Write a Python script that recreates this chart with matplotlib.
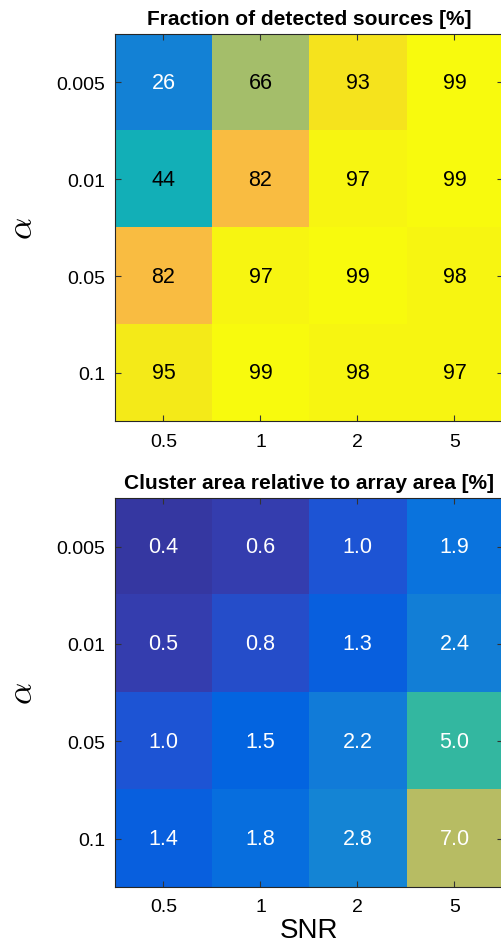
import numpy as np
import matplotlib
matplotlib.use('Agg')
from matplotlib import pyplot as plt
from matplotlib.colors import LinearSegmentedColormap

plt.rcParams['font.family'] = ['Liberation Sans', 'DejaVu Sans']
plt.rcParams['mathtext.fontset'] = 'cm'

snr = ['0.5', '1', '2', '5']
alpha = ['0.005', '0.01', '0.05', '0.1']

# rows: alpha, cols: SNR
detected = np.array([[26, 66, 93, 99],
                     [44, 82, 97, 99],
                     [82, 97, 99, 98],
                     [95, 99, 98, 97]])
cluster_area = np.array([[0.4, 0.6, 1.0, 1.9],
                         [0.5, 0.8, 1.3, 2.4],
                         [1.0, 1.5, 2.2, 5.0],
                         [1.4, 1.8, 2.8, 7.0]])

# parula-like colormap (subsampled)
parula_pts = [
    (0.2081, 0.1663, 0.5292), (0.2081, 0.2386, 0.6771), (0.1253, 0.3242, 0.8303),
    (0.0117, 0.3875, 0.8820), (0.0329, 0.4430, 0.8720), (0.0723, 0.4887, 0.8467),
    (0.0793, 0.5200, 0.8312), (0.0488, 0.5772, 0.8228), (0.0239, 0.6287, 0.8038),
    (0.0267, 0.6642, 0.7607), (0.0843, 0.6928, 0.7062), (0.1801, 0.7177, 0.6424),
    (0.3022, 0.7376, 0.5712), (0.4420, 0.7481, 0.5033), (0.5709, 0.7485, 0.4494),
    (0.6834, 0.7435, 0.4044), (0.7858, 0.7356, 0.3633), (0.8824, 0.7274, 0.3217),
    (0.9739, 0.7314, 0.2666), (0.9955, 0.7861, 0.1967), (0.9697, 0.8481, 0.1475),
    (0.9598, 0.9218, 0.0948), (0.9763, 0.9831, 0.0538)]
parula = LinearSegmentedColormap.from_list('parula', parula_pts, N=64)

panels = [
    (detected, 'Fraction of detected sources [%]', (0, 100), '{:.0f}', 30),
    (cluster_area, 'Cluster area relative to array area [%]', (0, 10), '{:.1f}', 100),
]

fig = plt.figure(figsize=(5.02, 9.45), dpi=100)
axes = [fig.add_axes([0.229, 0.553, 0.773, 0.410]),
        fig.add_axes([0.229, 0.060, 0.773, 0.412])]

for ax, (vals, title, clim, fmt, white_below) in zip(axes, panels):
    ax.imshow(vals, cmap=parula, vmin=clim[0], vmax=clim[1], aspect='auto')
    for i in range(vals.shape[0]):
        for j in range(vals.shape[1]):
            c = 'white' if vals[i, j] < white_below else 'black'
            ax.text(j, i, fmt.format(vals[i, j]), ha='center', va='center',
                    fontsize=15.5, color=c)
    ax.set_xticks(range(len(snr)))
    ax.set_xticklabels(snr)
    ax.set_yticks(range(len(alpha)))
    ax.set_yticklabels(alpha)
    ax.tick_params(direction='in', top=True, right=True, length=4, width=0.8,
                   labelsize=14, color='#333333')
    ax.tick_params(axis='x', pad=8)
    ax.tick_params(axis='y', pad=7)
    for s in ax.spines.values():
        s.set_linewidth(0.8)
        s.set_color('#262626')
    ax.set_title(title, fontsize=15, fontweight='bold', pad=7)
    ax.set_ylabel(r'$\alpha$', fontsize=25)
    ax.yaxis.set_label_coords(-0.195, 0.5)

axes[1].set_xlabel('SNR', fontsize=20)
axes[1].xaxis.set_label_coords(0.5, -0.075)

fig.savefig('out.png', dpi=100)
